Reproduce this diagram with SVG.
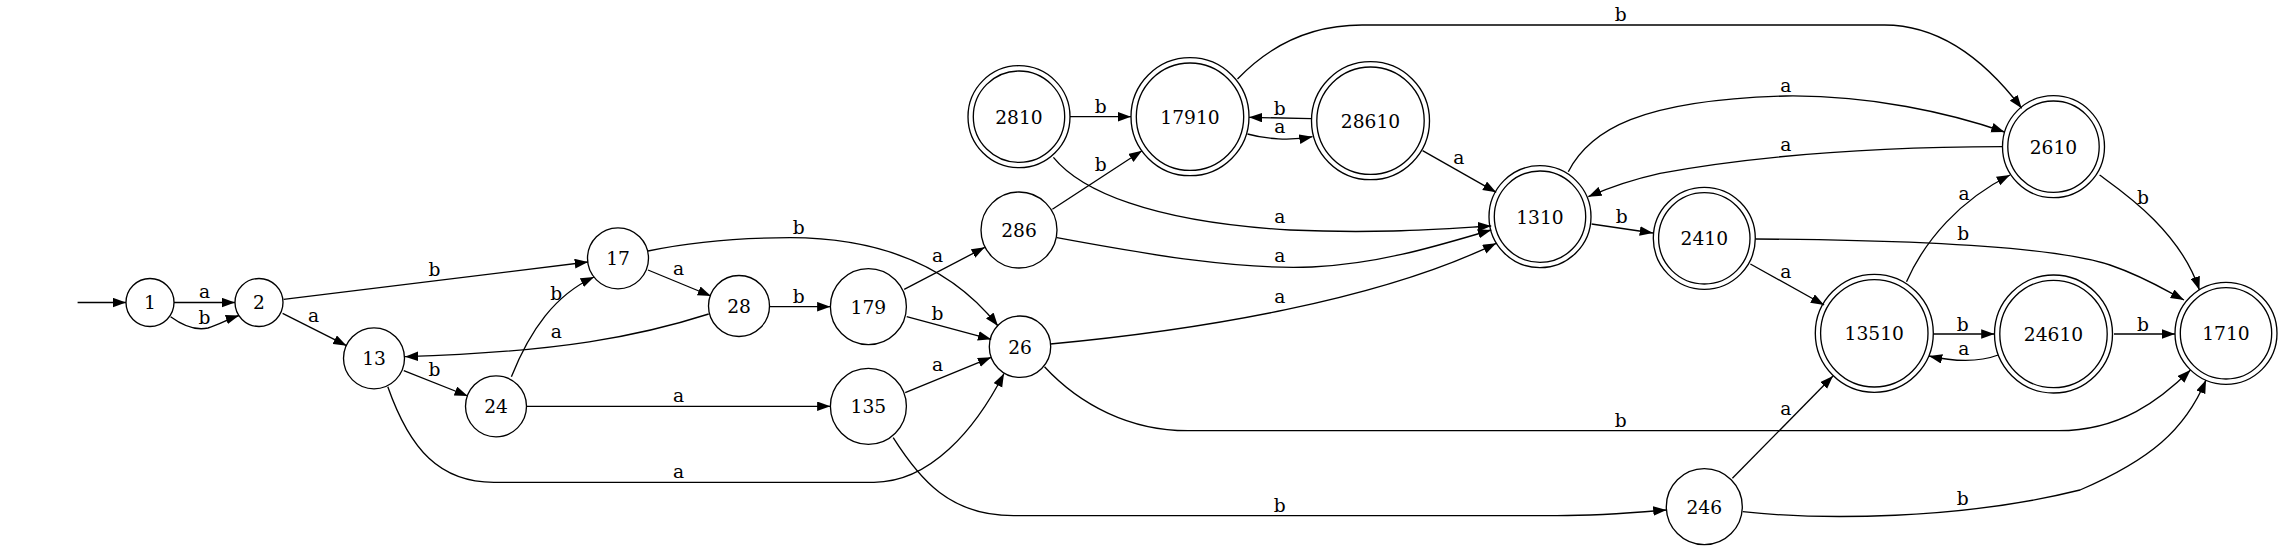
<svg xmlns="http://www.w3.org/2000/svg" width="2283" height="550" viewBox="0 0 2283 550">
<defs>
<marker id="arr" markerWidth="14" markerHeight="10" refX="13.3" refY="4.8" orient="auto" markerUnits="userSpaceOnUse"><path d="M0,0 L13.3,4.8 L0,9.6 z" fill="#000"/></marker>
<style>
.node circle{fill:none;stroke:#000;stroke-width:1.33}
.node text{font-family:"DejaVu Serif","Liberation Serif",serif;font-size:18.67px;text-anchor:middle;fill:#000}
#edges path{fill:none;stroke:#000;stroke-width:1.33;marker-end:url(#arr)}
#edges text{font-family:"DejaVu Serif","Liberation Serif",serif;font-size:18.67px;text-anchor:middle;fill:#000}
</style>
</defs>
<rect width="2283" height="550" fill="#fff"/>
<g id="nodes">
<g id="n1" class="node"><circle cx="150" cy="302.5" r="24"/><text x="150" y="309.3">1</text></g>
<g id="n2" class="node"><circle cx="259" cy="302.5" r="24"/><text x="259" y="309.3">2</text></g>
<g id="n13" class="node"><circle cx="374" cy="358.3" r="30.5"/><text x="374" y="365.1">13</text></g>
<g id="n17" class="node"><circle cx="618" cy="258.3" r="30.5"/><text x="618" y="265.1">17</text></g>
<g id="n28" class="node"><circle cx="739" cy="306" r="30.5"/><text x="739" y="312.8">28</text></g>
<g id="n24" class="node"><circle cx="496" cy="406.3" r="30.5"/><text x="496" y="413.1">24</text></g>
<g id="n179" class="node"><circle cx="868.4" cy="306.7" r="38"/><text x="868.4" y="313.5">179</text></g>
<g id="n135" class="node"><circle cx="868.4" cy="406.3" r="38"/><text x="868.4" y="413.1">135</text></g>
<g id="n26" class="node"><circle cx="1020" cy="346.7" r="30.7"/><text x="1020" y="353.5">26</text></g>
<g id="n286" class="node"><circle cx="1019" cy="230" r="38"/><text x="1019" y="236.8">286</text></g>
<g id="n2810" class="node"><circle cx="1019" cy="116.7" r="51"/><circle cx="1019" cy="116.7" r="45.7"/><text x="1019" y="123.5">2810</text></g>
<g id="n17910" class="node"><circle cx="1190" cy="116.7" r="59"/><circle cx="1190" cy="116.7" r="53.7"/><text x="1190" y="123.5">17910</text></g>
<g id="n28610" class="node"><circle cx="1370.5" cy="120.7" r="59"/><circle cx="1370.5" cy="120.7" r="53.7"/><text x="1370.5" y="127.5">28610</text></g>
<g id="n1310" class="node"><circle cx="1540" cy="216.7" r="51"/><circle cx="1540" cy="216.7" r="45.7"/><text x="1540" y="223.5">1310</text></g>
<g id="n2610" class="node"><circle cx="2053.5" cy="146.7" r="51"/><circle cx="2053.5" cy="146.7" r="45.7"/><text x="2053.5" y="153.5">2610</text></g>
<g id="n2410" class="node"><circle cx="1704.3" cy="238.3" r="51"/><circle cx="1704.3" cy="238.3" r="45.7"/><text x="1704.3" y="245.1">2410</text></g>
<g id="n13510" class="node"><circle cx="1874.3" cy="333.3" r="59"/><circle cx="1874.3" cy="333.3" r="53.7"/><text x="1874.3" y="340.1">13510</text></g>
<g id="n24610" class="node"><circle cx="2053.5" cy="334" r="59"/><circle cx="2053.5" cy="334" r="53.7"/><text x="2053.5" y="340.8">24610</text></g>
<g id="n1710" class="node"><circle cx="2226" cy="333.3" r="51"/><circle cx="2226" cy="333.3" r="45.7"/><text x="2226" y="340.1">1710</text></g>
<g id="n246" class="node"><circle cx="1704.3" cy="506.7" r="38"/><text x="1704.3" y="513.5">246</text></g>
</g>
<g id="edges">
<path d="M77.6,302.5 L126,302.5"/>
<path d="M174,302.5 L235,302.5"/><text x="204.5" y="298">a</text>
<path d="M170.6,316.7 C182,325 195,331 208,328 C219,325 228,319 239,315.5"/><text x="204.5" y="324.3">b</text>
<path d="M283.6,299.3 L588,262"/><text x="434.5" y="276.3">b</text>
<path d="M282.6,313.3 L346.6,345.7"/><text x="313.5" y="322">a</text>
<path d="M648,270 L711,296"/><text x="678.6" y="274.8">a</text>
<path d="M708.7,314 C640,336 560,352 405,356.7"/><text x="556.3" y="338.1">a</text>
<path d="M403.8,370.7 L467.8,396"/><text x="434.5" y="376.3">b</text>
<path d="M511.4,376.7 C530,330 555,295 594,277"/><text x="556.3" y="299.7">b</text>
<path d="M526.4,406.3 L830.4,406.3"/><text x="678.6" y="401.5">a</text>
<path d="M387.8,386.7 C410,450 440,482.3 494,482.3 L874,482.3 C930,482.3 975,430 1004,373.5"/><text x="678.6" y="478.1">a</text>
<path d="M648,251 C700,240 750,237.7 790,237.7 C880,238 950,265 998,326"/><text x="798.7" y="233.7">b</text>
<path d="M770,306.7 L830.4,306.7"/><text x="798.7" y="303">b</text>
<path d="M906.7,316.7 L991.2,339.3"/><text x="937.5" y="319.7">b</text>
<path d="M905.2,392.7 L991.2,357.3"/><text x="937.5" y="370.5">a</text>
<path d="M904.2,289.3 L984.8,247.3"/><text x="937.5" y="262.1">a</text>
<path d="M893.2,437.7 C920,480 950,515.7 1013.6,515.7 L1556.8,515.7 C1600,515.7 1630,513 1666.5,510"/><text x="1279.8" y="512">b</text>
<path d="M1050.4,344 C1200,330 1380,300 1496.2,243.3"/><text x="1279.8" y="303.1">a</text>
<path d="M1044.5,366.7 C1080,405 1130,430.7 1187.8,430.7 L2058.6,430.7 C2120,430.7 2160,400 2190.5,370"/><text x="1620.8" y="427">b</text>
<path d="M1070,116.7 L1131,116.7"/><text x="1100.7" y="113">b</text>
<path d="M1311.5,118.7 L1249,117.3"/><text x="1279.8" y="115.3">b</text>
<path d="M1247.5,134 C1265,139 1290,141 1312.5,136.7"/><text x="1279.8" y="133.1">a</text>
<path d="M1422.6,150.7 L1496.2,192.3"/><text x="1458.9" y="164.1">a</text>
<path d="M1053.4,157.3 C1080,190 1150,222 1290,230 C1380,234 1440,229 1491.2,226"/><text x="1279.8" y="223.1">a</text>
<path d="M1052.4,209.3 L1142,150.7"/><text x="1100.7" y="171.3">b</text>
<path d="M1056.9,237.7 C1150,255 1240,270 1312,267 C1380,264 1440,245 1491.2,230"/><text x="1279.8" y="261.5">a</text>
<path d="M1237.5,79 C1270,45 1310,25 1362,25 L1884.5,25 C1940,25 1985,60 2021.7,108.3"/><text x="1620.8" y="21">b</text>
<path d="M1568.3,171.7 C1590,130 1640,100 1786,96 C1870,95 1950,113 2004.5,132"/><text x="1785.7" y="91.5">a</text>
<path d="M2003,146.7 C1880,147 1760,155 1660,173.3 C1630,180 1610,187 1588.3,196.7"/><text x="1785.7" y="150.5">a</text>
<path d="M1591.6,224 L1653,233"/><text x="1621.7" y="222.7">b</text>
<path d="M2099.6,175 C2120,190 2180,230 2199.4,290"/><text x="2143" y="204.3">b</text>
<path d="M1755.5,239 C1900,240 2050,245 2110,265 C2145,277 2165,290 2184,300"/><text x="1963.3" y="240.3">b</text>
<path d="M1906.5,281.7 C1925,240 1960,200 2010,175"/><text x="1964" y="199.8">a</text>
<path d="M1750.4,264 L1824.1,305"/><text x="1785.7" y="278.1">a</text>
<path d="M1933.3,334 L1994.5,334"/><text x="1962.8" y="331">b</text>
<path d="M1998.2,355 C1985,360 1965,364 1929,356"/><text x="1963.9" y="354.8">a</text>
<path d="M2114,334 L2175,334"/><text x="2143" y="331">b</text>
<path d="M1732.4,478.3 L1833,376"/><text x="1785.7" y="414.8">a</text>
<path d="M1742.7,511.7 C1820,520 1960,520 2080,490 C2150,460 2185,430 2206,380"/><text x="1962.8" y="505.3">b</text>
</g>
</svg>
